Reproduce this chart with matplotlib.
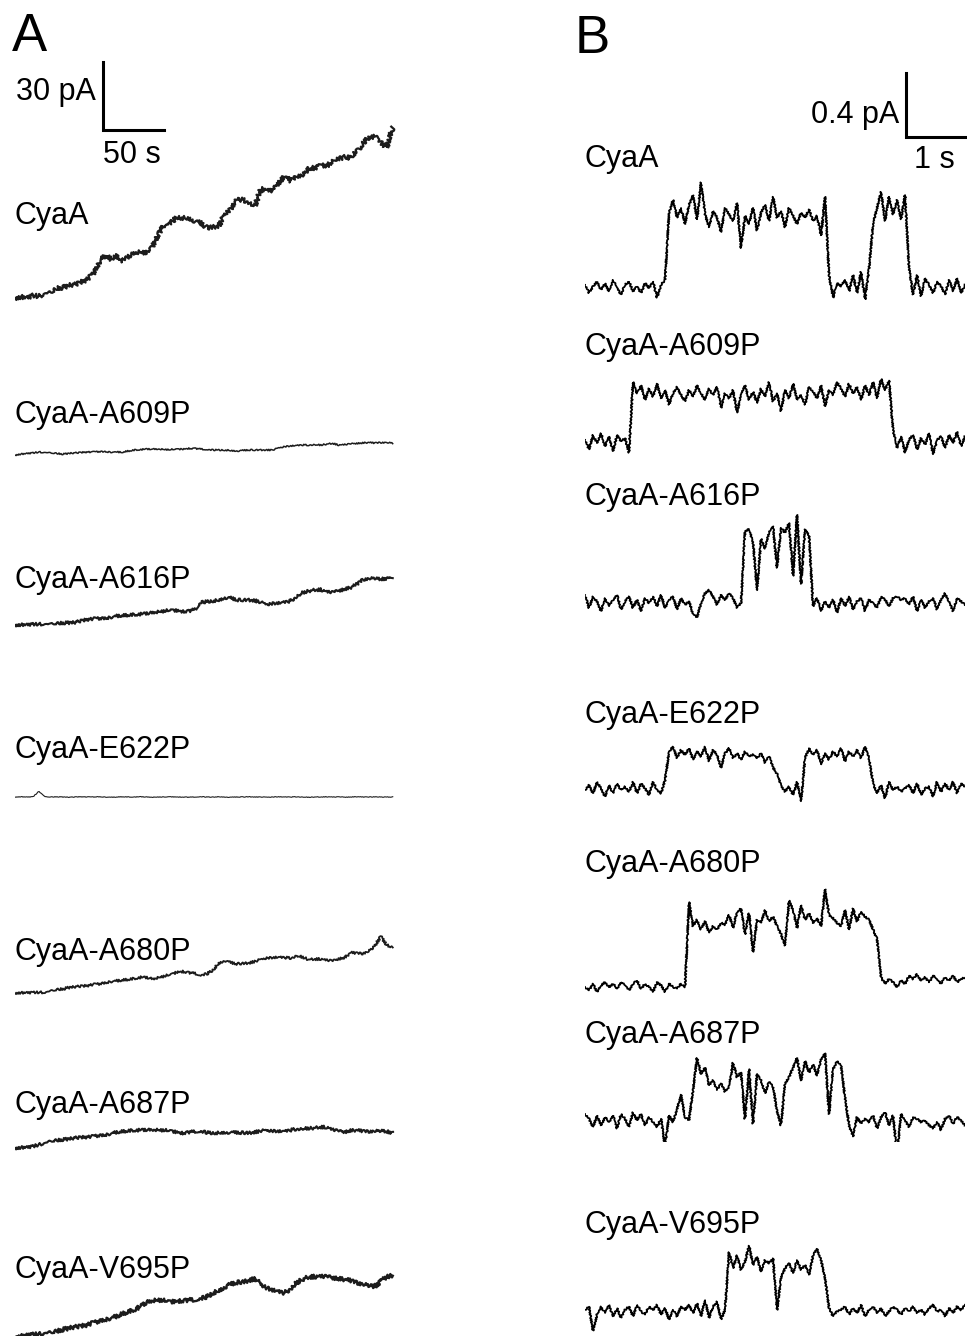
import numpy as np
import matplotlib
matplotlib.use("Agg")
import matplotlib.pyplot as plt

plt.rcParams['font.family'] = ['Liberation Sans', 'DejaVu Sans']

# ---- data ----
# panel A : macroscopic current (pA), one sample every DT_A seconds
DT_A = 4.91
names = ["CyaA", "CyaA-A609P", "CyaA-A616P", "CyaA-E622P",
         "CyaA-A680P", "CyaA-A687P", "CyaA-V695P"]

cyaa_a = [0.0, 0.5, 0.2, 1.1, 0.8, 2.0, 2.4, 4.3, 4.6, 5.6,
          5.9, 7.0, 8.1, 10.5, 15.6, 18.9, 17.2, 18.5, 16.4, 18.4,
          20.0, 20.2, 19.9, 23.3, 28.7, 32.6, 33.1, 35.6, 35.3, 35.2,
          34.0, 33.0, 30.9, 31.2, 31.8, 37.0, 39.2, 43.6, 43.2, 42.3,
          40.6, 48.0, 47.6, 47.1, 50.7, 53.7, 51.6, 53.7, 54.2, 57.2,
          57.3, 58.5, 58.2, 60.3, 61.3, 62.1, 61.7, 64.7, 67.9, 70.9,
          71.0, 68.7, 66.1, 75.3]
a609p_a = [0, 0.4, 0.7, 0.9, 1.3, 1.1, 0.9, 0.7, 0.4, 0.7,
           0.9, 1.1, 1.3, 1.3, 1.5, 1.5, 1.3, 1.3, 1.3, 1.8,
           2.2, 2.4, 2.6, 2.6, 2.6, 2.4, 2.4, 2.6, 2.6, 2.9,
           2.9, 2.6, 2.4, 2.2, 2.2, 2.2, 2.0, 1.8, 2.0, 2.2,
           2.2, 2.2, 2.2, 2.2, 3.1, 3.7, 4.0, 4.2, 4.4, 4.4,
           4.6, 4.4, 4.8, 5.1, 4.4, 4.6, 4.8, 5.1, 5.3, 5.5,
           5.3, 5.5, 5.5, 5.3]
a616p_a = [0, 0.1, 0.2, 0.3, 0.4, 0.4, 0.4, 0.7, 0.9, 1.0,
           1.1, 1.8, 2.4, 2.7, 2.9, 3.0, 3.5, 4.0, 4.2, 4.4,
           4.6, 4.8, 5.1, 5.5, 5.8, 6.2, 6.6, 6.4, 6.0, 6.2,
           6.8, 9.9, 10.3, 10.6, 11.0, 12.1, 11.9, 11.0, 11.0, 11.0,
           10.8, 9.9, 9.0, 9.5, 9.7, 10.1, 10.6, 12.8, 14.3, 15.0,
           15.4, 15.6, 14.7, 14.3, 15.0, 15.8, 16.5, 18.0, 20.0, 20.5,
           20.7, 20.2, 20.5, 20.5]
e622p_a = [0, 0.1, 0.0, 0.1, 2.5, 0.1, 0.0, 0.1, 0.0, -0.1,
           0.0, 0.1, 0.0, 0.0, 0.1, 0.0, -0.1, 0.0, 0.1, 0.0,
           0.0, 0.1, 0.0, -0.1, 0.0, 0.0, 0.1, 0.0, 0.0, -0.1,
           0.0, 0.1, 0.0, 0.0, 0.1, 0.0, -0.1, 0.0, 0.0, 0.1,
           0.0, 0.0, -0.1, 0.0, 0.1, 0.0, 0.0, 0.1, 0.0, -0.1,
           0.0, 0.0, 0.1, 0.0, 0.0, -0.1, 0.0, 0.1, 0.0, 0.0,
           0.1, 0.0, 0.0, 0.0]
a680p_a = [0, 0.1, 0.2, 0.2, 0.3, 0.3, 0.9, 1.5, 1.8, 2.4,
           2.7, 3.0, 3.2, 3.7, 4.0, 4.5, 5.1, 5.4, 5.7, 6.0,
           6.4, 6.9, 6.8, 6.2, 6.8, 7.5, 8.2, 9.2, 9.5, 9.0,
           8.6, 7.8, 8.4, 10.1, 13.2, 14.3, 13.4, 12.8, 13.0, 13.2,
           13.9, 14.7, 15.4, 15.6, 15.8, 15.6, 15.4, 16.5, 15.8, 14.7,
           14.9, 15.0, 14.5, 14.0, 15.0, 15.6, 17.8, 17.6, 17.4, 18.5,
           20.7, 25.0, 21.1, 20.0]
a687p_a = [0, 0.2, 0.4, 0.7, 1.5, 2.2, 3.0, 3.4, 3.7, 4.0,
           4.4, 4.7, 4.8, 5.1, 5.5, 5.8, 6.4, 7.0, 7.3, 7.6,
           7.8, 7.9, 8.0, 8.0, 7.9, 7.8, 7.6, 7.0, 6.6, 7.0,
           7.2, 7.3, 6.8, 6.6, 6.7, 6.9, 6.9, 6.8, 6.7, 6.6,
           7.0, 7.5, 7.7, 7.5, 7.4, 7.4, 7.9, 8.4, 8.6, 8.7,
           8.8, 9.2, 9.2, 8.1, 7.3, 7.0, 7.7, 7.8, 7.5, 7.3,
           7.5, 7.7, 7.3, 6.6]
v695p_a = [0, 0.4, 0.9, 1.1, 1.3, 1.7, 2.0, 2.6, 3.3, 3.9,
           4.4, 4.8, 5.3, 6.2, 7.0, 7.7, 8.4, 9.2, 10.3, 11.2,
           12.1, 13.6, 15.4, 16.0, 16.3, 16.0, 15.6, 15.8, 16.1, 16.3,
           16.3, 16.9, 17.7, 19.4, 20.5, 22.1, 23.3, 24.0, 24.2, 24.9,
           25.7, 23.1, 21.6, 20.7, 20.0, 19.4, 21.6, 24.0, 25.5, 26.4,
           26.6, 26.8, 26.4, 26.0, 25.7, 25.3, 24.9, 24.0, 23.3, 22.9,
           22.2, 24.6, 26.6, 27.1]

# panel B : single channel current (pA), one sample every DT_B seconds
DT_B = 0.0678
cyaa_b = [0.02, -0.03, 0.01, 0.04, -0.01, 0.03, -0.02, 0.05, 0.0, -0.04,
          0.02, 0.04, -0.02, 0.01, -0.03, 0.03, 0.0, 0.04, -0.06, 0.02, 0.05,
          0.47, 0.55, 0.44, 0.50, 0.40, 0.52, 0.58, 0.43, 0.66, 0.46,
          0.38, 0.48, 0.44, 0.35, 0.50, 0.46, 0.42, 0.53, 0.25, 0.45,
          0.40, 0.50, 0.36, 0.47, 0.52, 0.42, 0.57, 0.44, 0.48, 0.38,
          0.50, 0.45, 0.40, 0.47, 0.44, 0.49, 0.42, 0.45, 0.33, 0.57,
          0.08, -0.06, 0.03, 0.01, 0.05, -0.02, 0.08, -0.03, 0.10, -0.07, 0.12,
          0.40, 0.50, 0.60, 0.42, 0.57, 0.46, 0.55, 0.43, 0.58,
          0.12, -0.04, 0.08, -0.05, 0.06, 0.02, -0.03, 0.04, 0.01, -0.04,
          0.05, -0.02, 0.06, -0.03, 0.02]
a609p_b = [0.02, -0.04, 0.05, 0.0, 0.06, -0.02, 0.04, -0.05, 0.05, 0.01, 0.03, -0.06,
           0.38, 0.31, 0.36, 0.27, 0.34, 0.29, 0.37, 0.28, 0.33, 0.24,
           0.31, 0.35, 0.30, 0.26, 0.33, 0.29, 0.36, 0.31, 0.27, 0.34,
           0.30, 0.35, 0.22, 0.31, 0.28, 0.33, 0.19, 0.30, 0.36, 0.27,
           0.32, 0.25, 0.34, 0.29, 0.38, 0.26, 0.31, 0.20, 0.33, 0.28,
           0.37, 0.27, 0.30, 0.24, 0.35, 0.32, 0.28, 0.36, 0.23, 0.33,
           0.30, 0.38, 0.34, 0.29, 0.37, 0.31, 0.35, 0.27, 0.36, 0.30,
           0.38, 0.28, 0.40, 0.33, 0.39,
           0.08, -0.03, 0.04, -0.06, 0.02, 0.05, -0.04, 0.03, -0.01, 0.06,
           -0.07, 0.02, 0.04, -0.03, 0.05, 0.0, 0.07, -0.02, 0.04]
a616p_b = [0.05, -0.03, 0.04, 0.01, -0.05, 0.03, -0.02, 0.02, 0.05, -0.04,
           0.01, 0.04, -0.03, 0.02, -0.05, 0.03, 0.0, 0.04, -0.02, 0.05,
           -0.03, 0.02, 0.04, -0.04, 0.03, -0.01, 0.01, -0.07, -0.09, 0.0,
           0.06, 0.08, 0.04, -0.01, 0.05, 0.02, 0.06, 0.03, -0.03, 0.00,
           0.45, 0.46, 0.38, 0.08, 0.40, 0.34, 0.44, 0.48, 0.22, 0.47,
           0.44, 0.50, 0.17, 0.55, 0.12, 0.46, 0.42,
           -0.02, 0.03, -0.05, 0.01, -0.03, 0.02, -0.06, 0.03, -0.02, 0.04,
           -0.04, 0.01, 0.03, -0.05, 0.02, 0.0, -0.03, 0.04, 0.02, -0.02,
           0.03, 0.04, 0.02, 0.03, -0.01, 0.04, -0.05, 0.02, -0.03, 0.01,
           0.03, -0.04, 0.02, 0.06, 0.01, -0.05, 0.03, 0.01, -0.01]
e622p_b = [0.0, 0.03, -0.02, 0.05, 0.01, -0.04, 0.03, -0.02, 0.04, 0.0,
           0.02, -0.01, 0.05, -0.02, 0.04, 0.01, -0.03, 0.05, 0.0, -0.02, 0.06,
           0.24, 0.27, 0.20, 0.25, 0.22, 0.26, 0.19, 0.24, 0.21, 0.27,
           0.18, 0.25, 0.22, 0.14, 0.23, 0.26, 0.20, 0.23, 0.19, 0.24,
           0.21, 0.22, 0.20, 0.23, 0.17, 0.21, 0.14, 0.10,
           0.03, -0.01, 0.02, -0.03, 0.05, -0.07,
           0.20, 0.26, 0.22, 0.25, 0.16, 0.23, 0.19, 0.24, 0.21, 0.26,
           0.18, 0.24, 0.21, 0.25, 0.20, 0.27, 0.20,
           0.04, -0.02, 0.03, -0.05, 0.05, 0.0, 0.02, -0.01, 0.01, 0.03,
           -0.02, 0.04, -0.03, 0.01, 0.02, -0.04, 0.05, -0.01, 0.04, 0.0,
           0.05, -0.02, 0.04, 0.02]
a680p_b = [0.0, -0.02, 0.02, -0.03, 0.01, 0.03, 0.0, 0.02, -0.01, 0.03,
           0.01, -0.02, 0.02, 0.04, -0.01, 0.02, 0.0, -0.03, 0.03, 0.01,
           -0.03, 0.02, 0.0, -0.01, 0.02, 0.0,
           0.53, 0.38, 0.42, 0.36, 0.41, 0.34, 0.38, 0.36, 0.40, 0.39,
           0.45, 0.37, 0.47, 0.49, 0.33, 0.46, 0.22, 0.42, 0.40, 0.48,
           0.41, 0.44, 0.38, 0.33, 0.26, 0.54, 0.48, 0.37, 0.51, 0.42,
           0.46, 0.40, 0.43, 0.38, 0.61, 0.45, 0.43, 0.40, 0.38, 0.48,
           0.36, 0.49, 0.41, 0.47, 0.44, 0.42, 0.36, 0.30,
           0.06, 0.02, 0.05, 0.03, 0.0, 0.04, 0.02, 0.07, 0.05, 0.08,
           0.04, 0.06, 0.03, 0.07, 0.05, 0.02, 0.06, 0.04, 0.07, 0.03,
           0.05, 0.06]
a687p_b = [0.05, 0.02, -0.03, 0.04, -0.02, 0.03, 0.0, 0.04, -0.04, 0.05,
           0.02, -0.03, 0.06, 0.01, 0.05, -0.02, 0.03, 0.0, -0.03, 0.02,
           -0.15, 0.04, 0.0, 0.08, 0.17, 0.03, 0.01,
           0.20, 0.40, 0.30, 0.34, 0.23, 0.26, 0.20, 0.24, 0.19, 0.22,
           0.37, 0.28, 0.31, 0.02, 0.33, -0.01, 0.30, 0.26, 0.18, 0.25,
           0.22, 0.07, -0.02, 0.24, 0.28, 0.34, 0.40, 0.26, 0.38, 0.31,
           0.36, 0.29, 0.39, 0.43, 0.05, 0.33, 0.38, 0.35, 0.15,
           -0.02, -0.09, 0.03, -0.01, 0.02, 0.0, 0.04, -0.04, 0.03, 0.06,
           -0.02, 0.04, -0.20, 0.05, 0.01, -0.03, 0.03, 0.02, 0.0, 0.01,
           -0.02, -0.04, 0.0, -0.05, 0.02, 0.04, -0.01, 0.03, 0.01, -0.02]
v695p_b = [0.02, 0.04, -0.11, -0.01, 0.04, 0.0, 0.05, -0.02, 0.03, -0.03,
           0.02, 0.04, -0.02, 0.05, 0.01, -0.01, 0.04, 0.02, 0.05, -0.01,
           0.03, -0.04, 0.02, -0.02, 0.04, 0.02, 0.05, 0.0, 0.06, -0.02,
           0.08, -0.03, 0.04, 0.07, -0.04, 0.02,
           0.38, 0.28, 0.36, 0.27, 0.32, 0.42, 0.30, 0.35, 0.26, 0.33,
           0.31, 0.34, 0.02, 0.22, 0.28, 0.31, 0.25, 0.33, 0.27, 0.30,
           0.24, 0.36, 0.40, 0.33, 0.22,
           0.03, -0.02, 0.01, 0.02, 0.04, -0.01, 0.03, 0.0, 0.05, -0.02,
           0.02, 0.04, 0.0, 0.03, -0.02, 0.01, 0.04, 0.02, -0.01, 0.03,
           0.01, 0.04, 0.0, 0.02, -0.01, 0.03, 0.05, 0.01, 0.02, -0.02,
           0.03, 0.0, 0.04, 0.02, 0.05]

traces_a = [cyaa_a, a609p_a, a616p_a, e622p_a, a680p_a, a687p_a, v695p_a]
traces_b = [cyaa_b, a609p_b, a616p_b, e622p_b, a680p_b, a687p_b, v695p_b]

# ---- layout (pixels of the 967 x 1336 picture) ----
W, H = 967, 1336
A_X0, A_X1, A_TMAX = 15, 396, 312.0      # 1.22 px per s
B_X0, B_X1, B_TMAX = 585, 965, 6.44      # 59 px per s
A_PX_PER_PA = 2.27
B_PX_PER_PA = 160.0
a_base = [298, 455, 625, 797, 993, 1148, 1337]
a_label = [224, 423, 588, 758, 960, 1113, 1278]
a_lw = [1.6, 1.1, 1.5, 0.8, 1.3, 1.5, 1.7]
a_fuzz = [2.2, 0.7, 1.5, 0.3, 1.2, 1.5, 2.0]   # width of the noise band, px
b_base = [288, 443, 603, 790, 987, 1122, 1313]
b_label = [167, 355, 505, 723, 872, 1043, 1233]

FS = 22

fig = plt.figure(figsize=(W / 100, H / 100), dpi=100)


def trace_axes(x0, x1, tmax, base, ppu, above, below):
    ax = fig.add_axes([x0 / W, 1 - (base + below) / H, (x1 - x0) / W, (above + below) / H])
    ax.set_xlim(0, tmax)
    ax.set_ylim(-below / ppu, above / ppu)
    ax.set_axis_off()
    ax.patch.set_alpha(0)
    return ax


def ftext(x, y, s, **kw):
    fig.text(x / W, 1 - y / H, s, fontsize=kw.pop('fontsize', FS), **kw)


axes_a = []
for i in range(7):
    ax = trace_axes(A_X0, A_X1, A_TMAX, a_base[i], A_PX_PER_PA, 250, 20)
    y = np.array(traces_a[i])
    t = np.arange(len(y)) * DT_A
    line, = ax.plot(t, y, color='#1c1c1c', lw=a_lw[i])
    line.set_sketch_params(scale=a_fuzz[i], length=2, randomness=2)
    ftext(A_X0, a_label[i], names[i], ha='left', va='baseline')
    axes_a.append(ax)

axes_b = []
for i in range(7):
    ax = trace_axes(B_X0, B_X1, B_TMAX, b_base[i], B_PX_PER_PA, 230, 20)
    y = np.array(traces_b[i])
    t = np.arange(len(y)) * DT_B
    line, = ax.plot(t, y, color='black', lw=1.3)
    line.set_sketch_params(scale=0.8, length=3, randomness=2)
    ftext(B_X0, b_label[i], names[i], ha='left', va='baseline')
    axes_b.append(ax)

# scale bars
ax = axes_a[0]
t0 = (103 - A_X0) / (A_X1 - A_X0) * A_TMAX
y0 = (a_base[0] - 130) / A_PX_PER_PA
ax.plot([t0, t0, t0 + 50], [y0 + 30, y0, y0], color='black', lw=2.2,
        solid_joinstyle='miter', clip_on=False)
ftext(96, 100, "30 pA", ha='right', va='baseline')
ftext(103, 163, "50 s", ha='left', va='baseline')

ax = axes_b[0]
t0 = (906 - B_X0) / (B_X1 - B_X0) * B_TMAX
y0 = (b_base[0] - 137) / B_PX_PER_PA
ax.plot([t0, t0, t0 + 1], [y0 + 0.4, y0, y0], color='black', lw=2.2,
        solid_joinstyle='miter', clip_on=False)
ftext(899, 123, "0.4 pA", ha='right', va='baseline')
ftext(934, 168, "1 s", ha='center', va='baseline')

# panel letters
ftext(12, 51, "A", fontsize=38, ha='left', va='baseline')
ftext(575, 53, "B", fontsize=38, ha='left', va='baseline')

fig.savefig("out.png", dpi=100, facecolor='white')
